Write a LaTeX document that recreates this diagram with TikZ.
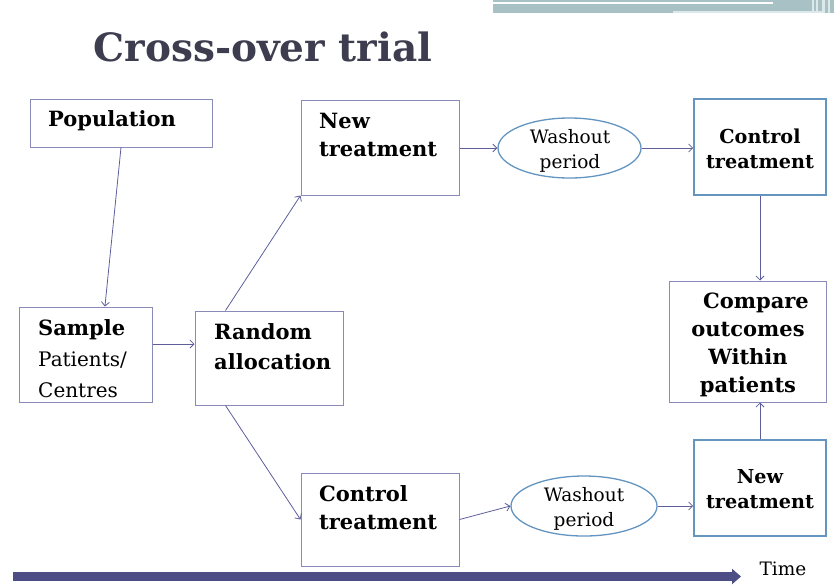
\documentclass[tikz,border=0pt]{standalone}
\usepackage{fontspec}
\setmainfont{DejaVu Serif}
\usetikzlibrary{shapes.geometric,arrows.meta,calc}
\definecolor{boxc}{HTML}{8A8AB8}
\definecolor{bluec}{HTML}{6395C0}
\definecolor{arrc}{HTML}{5E5E9C}
\definecolor{timec}{HTML}{4E4E86}
\definecolor{titlec}{HTML}{3D3D4F}
\definecolor{decoc}{HTML}{A7C1C5}
\definecolor{decol}{HTML}{DDE8EA}
\tikzset{
  box/.style={draw=boxc, line width=1pt, inner sep=0pt, fill=white},
  bbox/.style={draw=bluec, line width=1.6pt, inner sep=0pt, fill=white},
  ell/.style={ellipse, draw=bluec, line width=1.3pt, inner sep=0pt, fill=white},
  bt/.style={font=\bfseries\fontsize{21}{28}\selectfont, inner sep=0pt},
  bts/.style={font=\bfseries\fontsize{19.2}{25}\selectfont, inner sep=0pt},
  wt/.style={font=\fontsize{18.5}{25}\selectfont, inner sep=0pt},
  arr/.style={draw=arrc, line width=0.8pt, -{Straight Barb[length=4pt,width=8pt]}},
}
\begin{document}
\begin{tikzpicture}[x=1pt,y=-1pt]
\useasboundingbox (0,0) rectangle (834,584);
% top-right decoration
\fill[decoc] (493,0) rectangle (834,13);
\fill[white] (493,2) rectangle (773,3.5);
\fill[decol] (673,10.5) rectangle (822,13);
\foreach \xx/\ww in {812/2,816/1.5,822/3,828/1.5}{\fill[decol] (\xx,0) rectangle ++(\ww,13);}
% title
\node[font=\bfseries\fontsize{39}{42}\selectfont, text=titlec, anchor=base, inner sep=0pt] (title) at (263,61) {Cross-over trial};
% boxes
\node[box, minimum width=182pt, minimum height=48pt] (pop) at (121,123) {};
\node[box, minimum width=158pt, minimum height=95pt] (nt) at (380,147.5) {};
\node[ell, minimum width=143pt, minimum height=60pt] (w1) at (569.5,148) {};
\node[bbox, minimum width=132pt, minimum height=96pt] (ct2) at (760,147) {};
\node[box, minimum width=133pt, minimum height=95pt] (samp) at (85.5,354.5) {};
\node[box, minimum width=148pt, minimum height=94pt] (rand) at (269,358) {};
\node[box, minimum width=157pt, minimum height=121pt] (cmp) at (747.5,341.5) {};
\node[box, minimum width=158pt, minimum height=93pt] (ct) at (380,519.5) {};
\node[ell, minimum width=146pt, minimum height=60pt] (w2) at (584,506) {};
\node[bbox, minimum width=132pt, minimum height=96pt] (nt2) at (760,488) {};
% texts (anchored at the baseline of the last line)
\node[bt, anchor=base west] (tpop) at (48,126) {Population};
\node[bt, anchor=base west, align=left] (tnt) at (319,156) {New\\treatment};
\node[wt, anchor=base, align=center] (tw1) at (570,168) {Washout\\period};
\node[bts, anchor=base, align=center] (tct2) at (760,168) {Control\\treatment};
\node[anchor=base west, align=left, inner sep=0pt, font=\fontsize{20}{31}\selectfont] (tsamp) at (38,397) {\textbf{\fontsize{21}{28}\selectfont Sample}\\Patients/\\Centres};
\node[anchor=base west, align=left, inner sep=0pt, font=\bfseries\fontsize{21}{30}\selectfont] (trand) at (214,369) {Random\\allocation};
\node[bt, anchor=base, align=center] (tcmp) at (748,392) {\hspace*{16pt}Compare\\outcomes\\Within\\patients};
\node[bt, anchor=base west, align=left] (tct) at (319,529) {Control\\treatment};
\node[wt, anchor=base, align=center] (tw2) at (584,526) {Washout\\period};
\node[bts, anchor=base, align=center] (tnt2) at (760,508) {New\\treatment};
\node[font=\fontsize{18.5}{20}\selectfont, anchor=base, inner sep=0pt] (ttime) at (783,575) {Time};
% connectors
\draw[arr] (pop.south) -- ($(samp.north west)!0.645!(samp.north east)$);
\draw[arr] (samp.east |- 0,344) -- (rand.west |- 0,344);
\draw[arr] ($(rand.north west)+(31,0)$) -- (nt.south west);
\draw[arr] ($(rand.south west)+(31,0)$) -- (ct.west);
\draw[arr] (nt.east |- w1.west) -- (w1.west);
\draw[arr] (w1.east) -- (ct2.west |- w1.east);
\draw[arr] (ct2.south) -- (cmp.north -| ct2.south);
\draw[arr] (ct.east) -- (w2.west);
\draw[arr] (w2.east) -- (nt2.west |- w2.east);
\draw[arr] (nt2.north) -- (cmp.south -| nt2.north);
% time axis
\coordinate (tl) at (13,576.5);
\coordinate (tr) at (741,576.5);
\draw[timec, line width=9pt, -{Triangle[length=9pt,width=15pt]}] (tl) -- (tr);
\end{tikzpicture}
\end{document}
